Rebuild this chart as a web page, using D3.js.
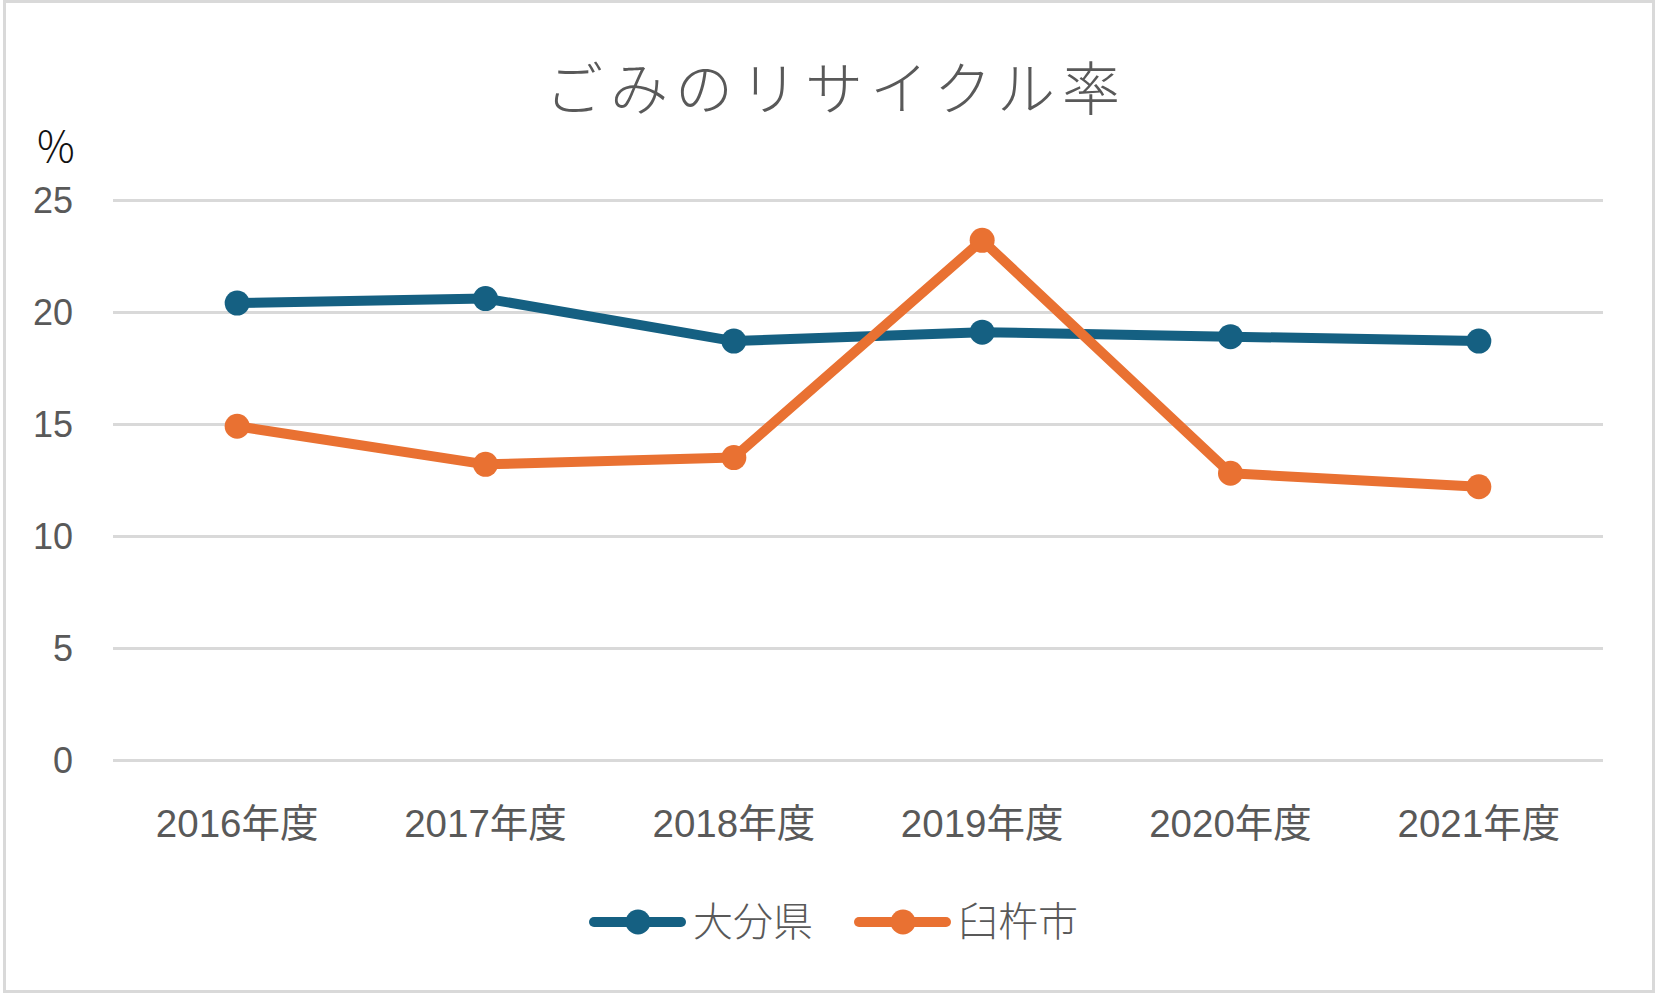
<!DOCTYPE html>
<meta charset="UTF-8">
<style>
  body { margin: 0; background: #fff; }
  svg { display: block; }
  .tick text { fill: #595959; font-family: "Liberation Sans", "Noto Sans CJK JP", sans-serif; }
</style>
<svg xmlns="http://www.w3.org/2000/svg" width="1656" height="993"></svg>
<script src="https://d3js.org/d3.v7.min.js"></script>
<script>
  const WIDTH = 1656, HEIGHT = 993;
  const PLOT = { left: 113, right: 1603, top: 200, bottom: 760 };

  const years = ['2016年度', '2017年度', '2018年度', '2019年度', '2020年度', '2021年度'];
  const oita = [20.4, 20.6, 18.7, 19.1, 18.9, 18.7];
  const usuki = [14.9, 13.2, 13.5, 23.2, 12.8, 12.2];
  const yTicks = [0, 5, 10, 15, 20, 25];

  const series = [
    { name: '大分県', values: oita, color: '#156082' },
    { name: '臼杵市', values: usuki, color: '#E97132' },
  ];

  const svg = d3.select('svg');

  svg.append('rect')
    .attr('x', 4.5).attr('y', 1.5)
    .attr('width', WIDTH - 7).attr('height', HEIGHT - 3)
    .attr('fill', '#fff')
    .attr('stroke', '#d9d9d9')
    .attr('stroke-width', 3);

  const x = d3.scaleBand().domain(years).range([PLOT.left, PLOT.right]);
  const y = d3.scaleLinear().domain([0, 25]).range([PLOT.bottom, PLOT.top]);

  // gridlines + y labels
  const yAxis = svg.append('g')
    .attr('transform', `translate(${PLOT.left},0)`)
    .call(d3.axisLeft(y).tickValues(yTicks).tickSize(-(PLOT.right - PLOT.left)).tickPadding(40));
  yAxis.select('.domain').remove();
  yAxis.selectAll('.tick line').attr('stroke', '#d9d9d9').attr('stroke-width', 3);
  yAxis.selectAll('.tick text').attr('font-size', 36).attr('dy', '0.36em');

  const xAxis = svg.append('g')
    .attr('transform', `translate(0,${PLOT.bottom})`)
    .call(d3.axisBottom(x).tickSize(0).tickPadding(0));
  xAxis.select('.domain').remove();
  xAxis.selectAll('.tick text').attr('font-size', 38.5).attr('dy', null).attr('y', 77);

  // title
  svg.append('text')
    .attr('x', 836).attr('y', 110)
    .attr('text-anchor', 'middle')
    .attr('font-family', '"Noto Sans CJK JP", sans-serif')
    .attr('font-weight', 300)
    .attr('font-size', 58)
    .attr('letter-spacing', 7)
    .attr('fill', '#595959')
    .text('ごみのリサイクル率');

  svg.append('text')
    .attr('x', 37).attr('y', 162)
    .attr('font-family', '"Noto Sans CJK JP", sans-serif')
    .attr('font-weight', 300)
    .attr('font-size', 42)
    .attr('fill', '#111')
    .text('%');

  const line = d3.line()
    .x((d, i) => x(years[i]) + x.bandwidth() / 2)
    .y(d => y(d));

  series.forEach(s => {
    const g = svg.append('g');
    g.append('path')
      .attr('d', line(s.values))
      .attr('fill', 'none')
      .attr('stroke', s.color)
      .attr('stroke-width', 10)
      .attr('stroke-linejoin', 'round');
    g.selectAll('circle')
      .data(s.values)
      .enter().append('circle')
        .attr('cx', (d, i) => x(years[i]) + x.bandwidth() / 2)
        .attr('cy', d => y(d))
        .attr('r', 12.5)
        .attr('fill', s.color);
  });

  // legend
  const legendX = [589, 854];
  const legend = svg.append('g')
    .selectAll('g')
    .data(series)
    .enter().append('g')
      .attr('transform', (d, i) => `translate(${legendX[i]},922)`);
  legend.append('line')
    .attr('x1', 5).attr('x2', 92)
    .attr('stroke', d => d.color)
    .attr('stroke-width', 10)
    .attr('stroke-linecap', 'round');
  legend.append('circle')
    .attr('cx', 49).attr('r', 12.5)
    .attr('fill', d => d.color);
  legend.append('text')
    .attr('x', 104)
    .attr('dy', '0.35em')
    .attr('font-family', '"Noto Sans CJK JP", sans-serif')
    .attr('font-weight', 300)
    .attr('font-size', 40)
    .attr('fill', '#595959')
    .text(d => d.name);
</script>
